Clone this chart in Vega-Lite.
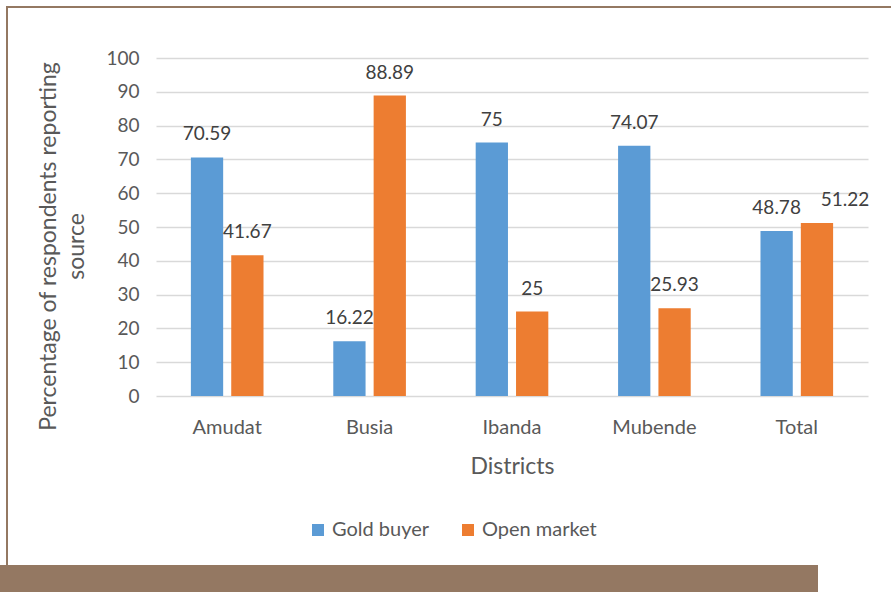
{
  "$schema": "https://vega.github.io/schema/vega-lite/v6.json",
  "padding": {"top": 6, "left": 0, "right": 0, "bottom": 0},
  "background": "white",
  "config": {
    "view": {"stroke": null},
    "font": "Lato",
    "concat": {"spacing": 0}
  },
  "spacing": 0,
  "vconcat": [
    {
      "spacing": 0,
      "hconcat": [
        {"width": 6, "height": 2, "data": {"values": []}, "mark": "point", "view": {"stroke": null}},
        {"width": 885, "height": 2, "data": {"values": []}, "mark": "point", "view": {"fill": "#947862", "stroke": null}}
      ]
    },
    {
      "spacing": 29,
      "hconcat": [
        {
          "spacing": 0,
          "hconcat": [
            {"width": 6, "height": 557, "data": {"values": []}, "mark": "point", "view": {"stroke": null}},
            {"width": 2, "height": 557, "data": {"values": []}, "mark": "point", "view": {"fill": "#947862", "stroke": null}}
          ]
        },
        {
          "spacing": 0,
          "vconcat": [
            {"width": 1, "height": 41, "data": {"values": []}, "mark": "point", "view": {"stroke": null}},
            {
              "width": 712,
              "height": 338,
              "data": {
                "values": [
                  {"District": "Amudat", "Source": "Gold buyer", "Percentage": 70.59},
                  {"District": "Amudat", "Source": "Open market", "Percentage": 41.67},
                  {"District": "Busia", "Source": "Gold buyer", "Percentage": 16.22},
                  {"District": "Busia", "Source": "Open market", "Percentage": 88.89},
                  {"District": "Ibanda", "Source": "Gold buyer", "Percentage": 75},
                  {"District": "Ibanda", "Source": "Open market", "Percentage": 25},
                  {"District": "Mubende", "Source": "Gold buyer", "Percentage": 74.07},
                  {"District": "Mubende", "Source": "Open market", "Percentage": 25.93},
                  {"District": "Total", "Source": "Gold buyer", "Percentage": 48.78},
                  {"District": "Total", "Source": "Open market", "Percentage": 51.22}
                ]
              },
              "encoding": {
                "x": {
                  "field": "District",
                  "type": "nominal",
                  "sort": ["Amudat", "Busia", "Ibanda", "Mubende", "Total"],
                  "scale": {"paddingInner": 0.49, "paddingOuter": 0.245},
                  "title": "Districts",
                  "axis": {
                    "labelAngle": 0,
                    "labelFontSize": 20,
                    "labelColor": "#595959",
                    "labelPadding": 21,
                    "ticks": false,
                    "domain": false,
                    "titleFontSize": 23,
                    "titleFontWeight": "normal",
                    "titleColor": "#595959",
                    "titlePadding": 18
                  }
                },
                "xOffset": {
                  "field": "Source",
                  "type": "nominal",
                  "sort": ["Gold buyer", "Open market"],
                  "scale": {"paddingInner": 0.2, "paddingOuter": 0}
                },
                "y": {
                  "field": "Percentage",
                  "type": "quantitative",
                  "scale": {"domain": [0, 100]},
                  "title": ["Percentage of respondents reporting", "source"],
                  "axis": {
                    "values": [0, 10, 20, 30, 40, 50, 60, 70, 80, 90, 100],
                    "grid": true,
                    "gridColor": "#d9d9d9",
                    "gridWidth": 1.5,
                    "domain": false,
                    "ticks": false,
                    "labelFontSize": 19,
                    "labelColor": "#595959",
                    "labelPadding": 17,
                    "titleFontSize": 23,
                    "titleFontWeight": "normal",
                    "titleColor": "#595959",
                    "titlePadding": 17,
                    "titleLineHeight": 28,
                    "titleY": 188
                  }
                }
              },
              "layer": [
                {
                  "mark": {"type": "bar"},
                  "encoding": {
                    "color": {
                      "field": "Source",
                      "type": "nominal",
                      "sort": ["Gold buyer", "Open market"],
                      "scale": {"domain": ["Gold buyer", "Open market"], "range": ["#5b9bd5", "#ed7d31"]},
                      "legend": {
                        "title": null,
                        "orient": "none",
                        "direction": "horizontal",
                        "legendX": 308,
                        "legendY": 514,
                        "symbolType": "square",
                        "symbolSize": 144,
                        "symbolStrokeWidth": 0,
                        "labelFontSize": 20,
                        "labelColor": "#595959",
                        "labelOffset": 4,
                        "columnPadding": 28
                      }
                    }
                  }
                },
                {
                  "transform": [{"filter": "!(datum.District === 'Total' && datum.Source === 'Open market')"}],
                  "mark": {"type": "text", "baseline": "alphabetic", "dy": -17, "fontSize": 19, "color": "#404040"},
                  "encoding": {"text": {"field": "Percentage", "type": "quantitative"}}
                },
                {
                  "transform": [{"filter": "datum.District === 'Total' && datum.Source === 'Open market'"}],
                  "mark": {"type": "text", "baseline": "alphabetic", "dy": -17, "dx": 28, "fontSize": 19, "color": "#404040"},
                  "encoding": {"text": {"field": "Percentage", "type": "quantitative"}}
                }
              ]
            }
          ]
        }
      ]
    },
    {"width": 818, "height": 27, "data": {"values": []}, "mark": "point", "view": {"fill": "#947862", "stroke": null}}
  ]
}
